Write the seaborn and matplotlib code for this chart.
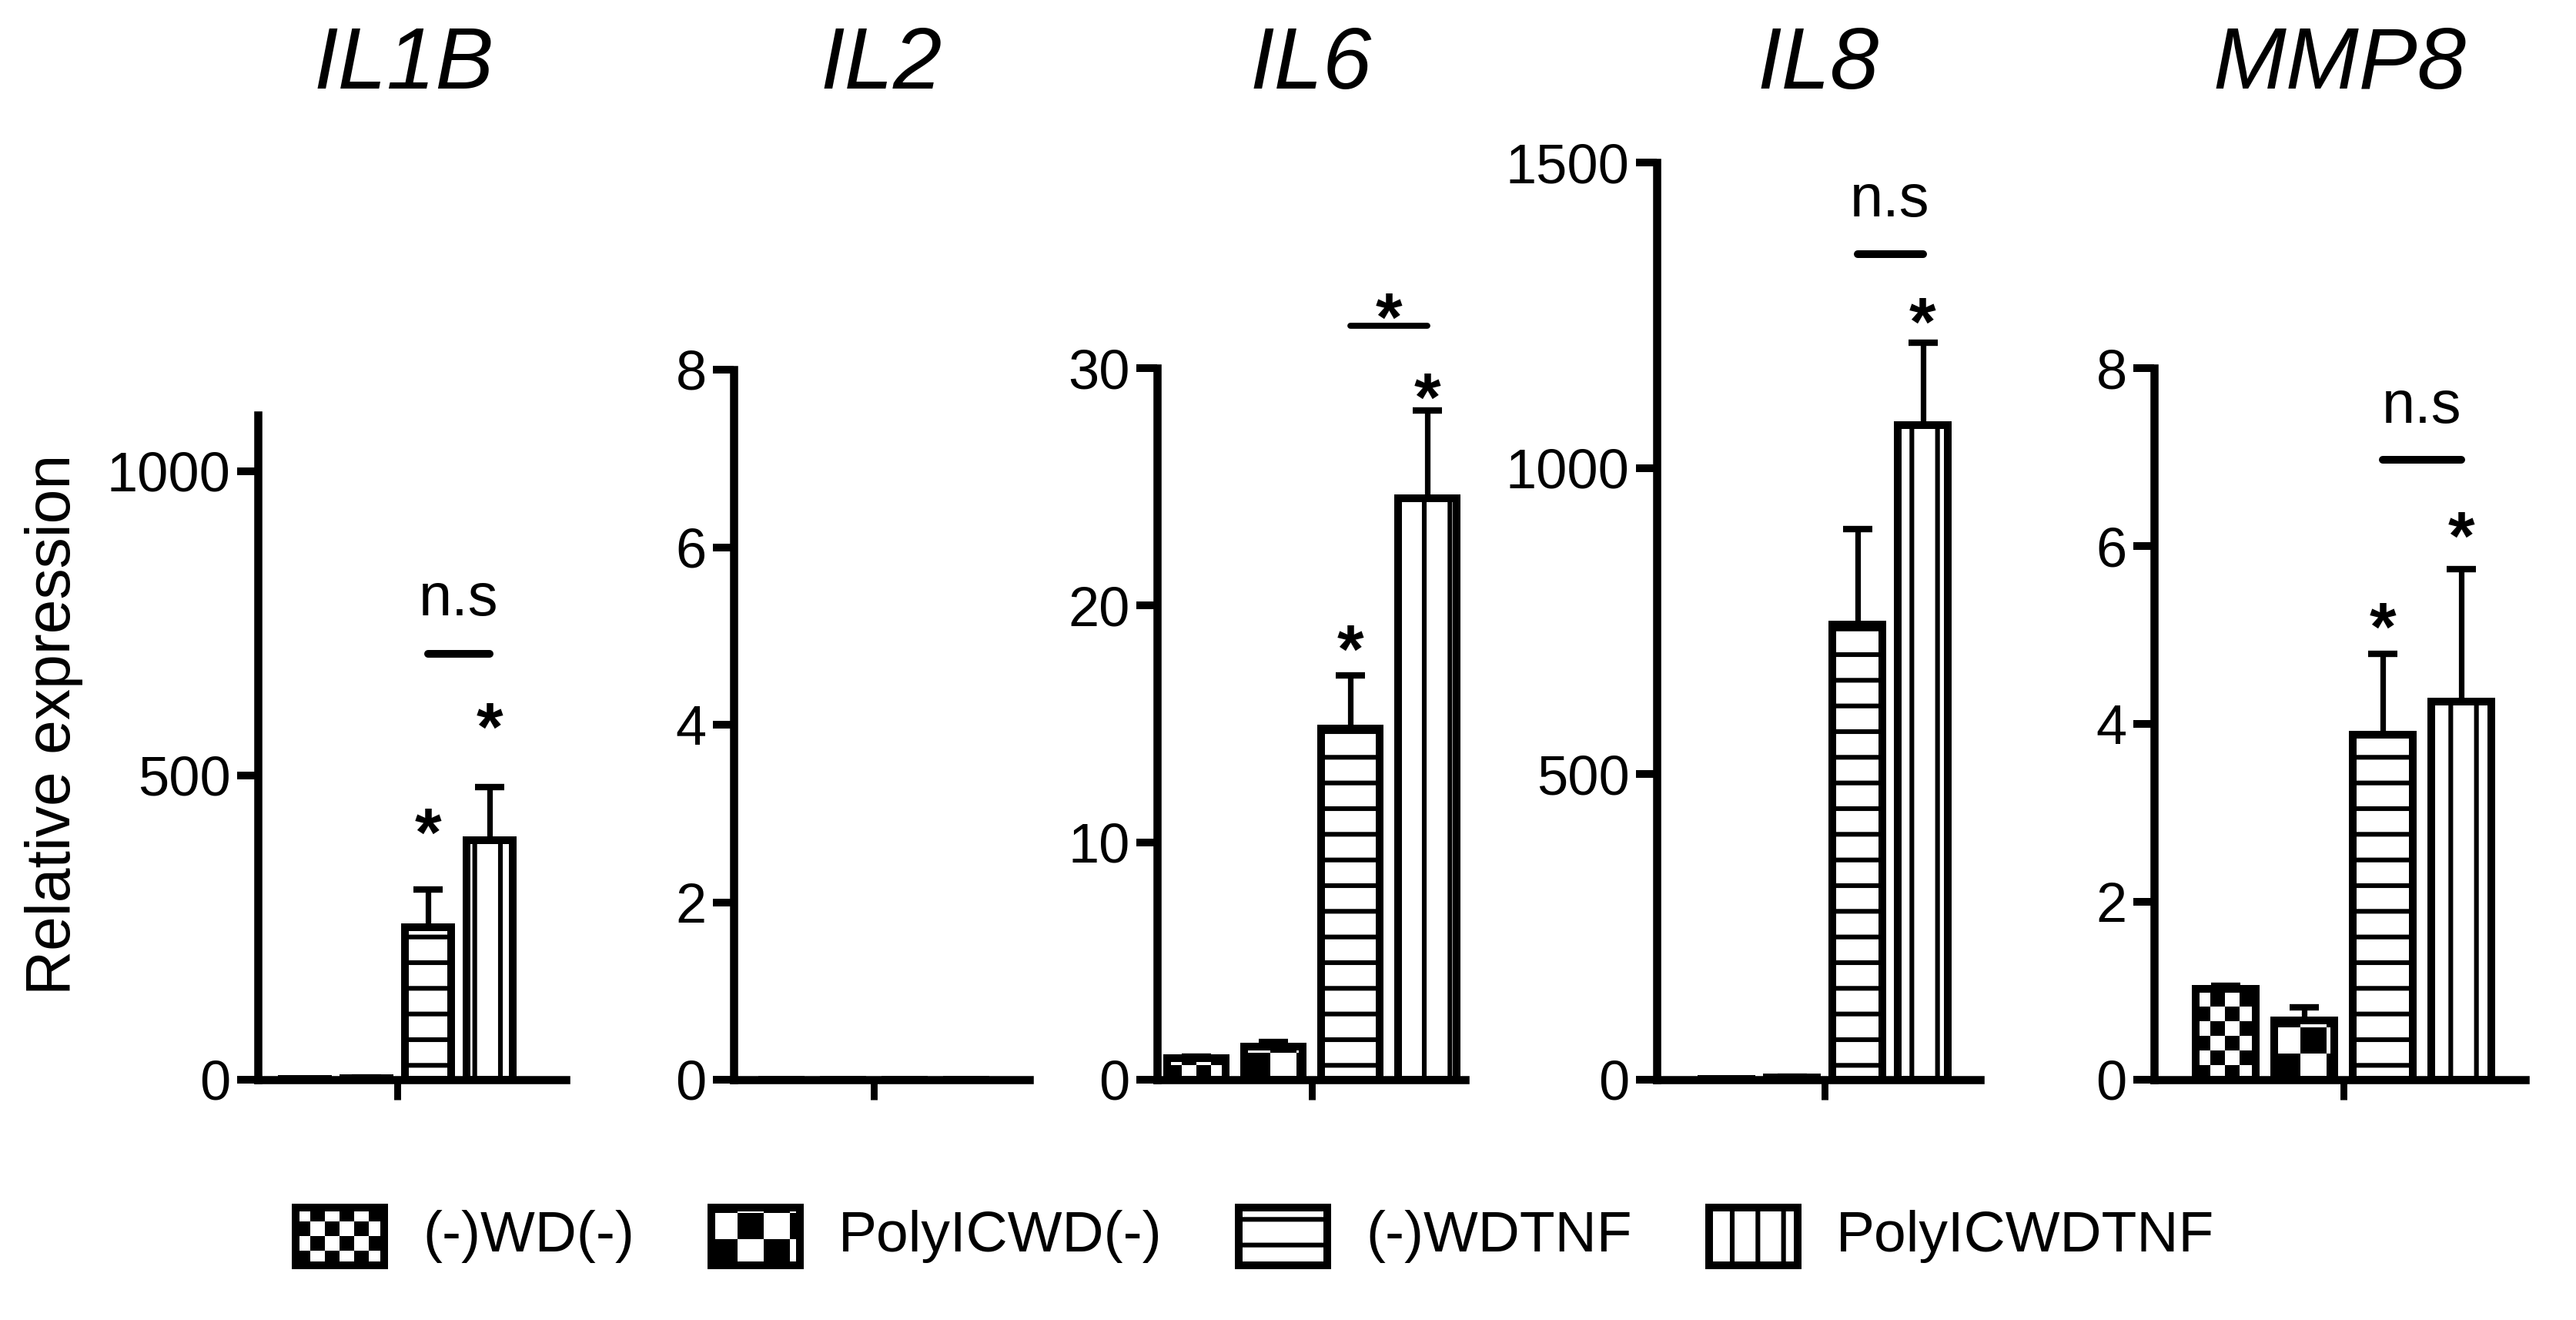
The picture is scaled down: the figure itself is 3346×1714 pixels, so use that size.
import numpy as np
import pandas as pd
import matplotlib
matplotlib.use("Agg")
import matplotlib.pyplot as plt
import seaborn as sns
from matplotlib.patches import Rectangle

# data
genes = ["IL1B", "IL2", "IL6", "IL8", "MMP8"]
groups = ["(-)WD(-)", "PolyICWD(-)", "(-)WDTNF", "PolyICWDTNF"]

il1b_mean = [1, 3, 250, 393]
il1b_err = [0, 1, 62, 88]
il2_mean = [0, 0, 0, 0]
il2_err = [0, 0, 0, 0]
il6_mean = [0.92, 1.4, 14.8, 24.5]
il6_err = [0.05, 0.2, 2.25, 3.7]
il8_mean = [1, 4, 744, 1071]
il8_err = [0, 1, 157, 134]
mmp8_mean = [1.02, 0.67, 3.88, 4.25]
mmp8_err = [0.04, 0.14, 0.91, 1.49]

# asterisks above single bars (y of the star centre), None = no star
il1b_stars = [None, None, 435, 608]
il2_stars = [None, None, None, None]
il6_stars = [None, None, 18.9, 29.5]
il8_stars = [None, None, None, 1268]
mmp8_stars = [None, None, 5.29, 6.31]

# bracket between bar 3 and bar 4: (label, line y, label y)
il1b_bracket = ("n.s", 700, 788)
il2_bracket = None
il6_bracket = ("*", 31.8, 32.9)
il8_bracket = ("n.s", 1350, 1436)
mmp8_bracket = ("n.s", 6.97, 7.55)

il1b_ticks = [0, 500, 1000]
il2_ticks = [0, 2, 4, 6, 8]
il6_ticks = [0, 10, 20, 30]
il8_ticks = [0, 500, 1000, 1500]
mmp8_ticks = [0, 2, 4, 6, 8]
y_tops = [1092, 8, 30, 1500, 8]

means = [il1b_mean, il2_mean, il6_mean, il8_mean, mmp8_mean]
errs = [il1b_err, il2_err, il6_err, il8_err, mmp8_err]
stars = [il1b_stars, il2_stars, il6_stars, il8_stars, mmp8_stars]
brackets = [il1b_bracket, il2_bracket, il6_bracket, il8_bracket, mmp8_bracket]
yticks = [il1b_ticks, il2_ticks, il6_ticks, il8_ticks, mmp8_ticks]

rows = []
for g, m in zip(genes, means):
    for grp, v in zip(groups, m):
        rows.append({"gene": g, "group": grp, "value": v})
df = pd.DataFrame(rows)

# layout in pixels: y-axis x, x-axis end, category tick x, px per x unit, axis height
W, H, DPI = 3346, 1714, 200
BASE = 1402
layout = {
    "IL1B": (335, 735, 516, 400, 863),
    "IL2": (953, 1337, 1135, 400, 922),
    "IL6": (1503, 1903, 1704, 500, 924),
    "IL8": (2152, 2572, 2370, 425, 1191),
    "MMP8": (2798, 3280, 3044, 510, 924),
}
title_x = {"IL1B": 525}

sns.set_style("ticks")
plt.rcParams["font.family"] = ["Liberation Sans", "DejaVu Sans"]
plt.rcParams["hatch.linewidth"] = 2.2
for k in ["axes.edgecolor", "xtick.color", "ytick.color", "text.color",
          "axes.labelcolor", "xtick.labelcolor", "ytick.labelcolor"]:
    plt.rcParams[k] = "black"

fig = plt.figure(figsize=(W / DPI, H / DPI), dpi=DPI)

EDGE = 3.6
cells = {groups[0]: 19, groups[1]: 34}
hatches = {groups[2]: "-", groups[3]: "|"}


def checker(ax, x0, y0, w, h, cell, ppx, ppy, clip, z):
    nx = int(np.ceil(w * ppx / cell)) + 1
    ny = int(np.ceil(h * ppy / cell)) + 1
    grid = (np.add.outer(np.arange(ny), np.arange(nx)) % 2).astype(float)
    im = ax.imshow(grid, cmap="gray", vmin=0, vmax=1, origin="lower",
                   interpolation="nearest", aspect="auto", zorder=z,
                   extent=[x0, x0 + nx * cell / ppx, y0, y0 + ny * cell / ppy])
    im.set_clip_path(clip)


for i, gene in enumerate(genes):
    L, R, T, ppu, hpx = layout[gene]
    ax = fig.add_axes([L / W, (H - BASE) / H, (R - L) / W, hpx / H])
    sub = df[df["gene"] == gene]
    sns.barplot(data=sub, x="gene", y="value", hue="group", hue_order=groups,
                palette=["white"] * 4, edgecolor="black", linewidth=EDGE,
                width=0.8, gap=0.24, errorbar=None, legend=False, ax=ax)
    xlim = ((L - T) / ppu, (R - T) / ppu)
    ylim = (0, y_tops[i])

    bars = sorted([p for p in ax.patches if isinstance(p, Rectangle)],
                  key=lambda p: p.get_x())
    centers = [p.get_x() + p.get_width() / 2 for p in bars]
    ppx = ppu
    ppy = hpx / y_tops[i]
    for grp, p in zip(groups, bars):
        p.set_zorder(2)
        if grp in hatches:
            p.set_hatch(hatches[grp])
        elif p.get_height() > 0:
            p.set_facecolor("none")
            checker(ax, p.get_x(), p.get_y(), p.get_width(), p.get_height(),
                    cells[grp], ppx, ppy, p, 1.5)

    m = np.array(means[i], float)
    e = np.array(errs[i], float)
    keep = e > 0
    if keep.any():
        ax.errorbar(np.array(centers)[keep], m[keep],
                    yerr=[np.zeros(keep.sum()), e[keep]], fmt="none",
                    ecolor="black", elinewidth=2.6, capsize=7, capthick=3.0,
                    zorder=3)

    for c, s in zip(centers, stars[i]):
        if s is not None:
            ax.annotate("*", (c, s), xytext=(0, -19), textcoords="offset points",
                        ha="center", va="baseline", fontsize=32,
                        fontweight="bold", annotation_clip=False)
    br = brackets[i]
    if br is not None:
        lab, yl, yt = br
        ax.plot([centers[2], centers[3]], [yl, yl], color="black",
                lw=3.6 if lab == "n.s" else 2.8, solid_capstyle="round",
                clip_on=False, zorder=3)
        mid = (centers[2] + centers[3]) / 2
        if lab == "n.s":
            ax.annotate(lab, (mid, yt), xytext=(0, -7), textcoords="offset points",
                        ha="center", va="baseline", fontsize=28,
                        annotation_clip=False)
        else:
            ax.annotate(lab, (mid, yt), xytext=(0, -19), textcoords="offset points",
                        ha="center", va="baseline", fontsize=32,
                        fontweight="bold", annotation_clip=False)

    ax.set_xlim(*xlim)
    ax.set_ylim(*ylim)
    ax.set_xticks([0])
    ax.set_xticklabels([""])
    ax.set_yticks(yticks[i])
    ax.set_yticklabels([str(t) for t in yticks[i]])
    ax.set_xlabel("")
    ax.set_ylabel("")
    for side in ["top", "right"]:
        ax.spines[side].set_visible(False)
    for side in ["left", "bottom"]:
        ax.spines[side].set_linewidth(3.8)
        ax.spines[side].set_zorder(2.5)
    ax.tick_params(axis="y", length=9.7, width=3.6, labelsize=26, pad=3)
    ax.tick_params(axis="x", length=9.4, width=3.2)
    ax.patch.set_visible(False)

    tx = title_x.get(gene, (L + R) / 2)
    fig.text(tx / W, 1 - 115 / H, gene, ha="center", va="baseline",
             fontsize=41, style="italic")

fig.text(70 / W, 1 - 941 / H, "Relative expression", rotation=90,
         ha="center", va="center", fontsize=29)

# legend row drawn in pixel units
lax = fig.add_axes([0, 0, 1, 200 / H])
lax.set_xlim(0, W)
lax.set_ylim(0, 200)
lax.axis("off")
renderer = fig.canvas.get_renderer()
x = 384
bw, bh, by = 115, 75, 71
for grp in groups:
    rect = Rectangle((x, by), bw, bh, facecolor="white", edgecolor="black",
                     linewidth=EDGE, zorder=2)
    lax.add_patch(rect)
    if grp in hatches:
        rect.set_hatch(hatches[grp])
    else:
        rect.set_facecolor("none")
        checker(lax, x, by, bw, bh, cells[grp], 1, 1, rect, 1.5)
    t = lax.text(x + bw + 50, by + bh / 2, grp, ha="left", va="center",
                 fontsize=27)
    x = t.get_window_extent(renderer).x1 + 100
lax.set_xlim(0, W)
lax.set_ylim(0, 200)

fig.savefig("out.png", dpi=DPI)
